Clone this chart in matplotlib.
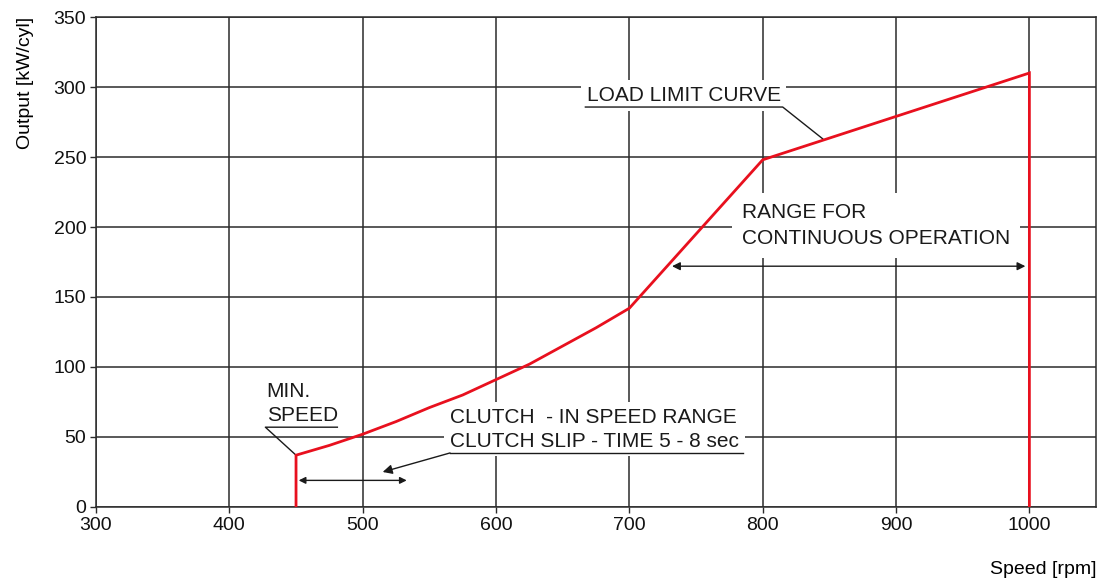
import numpy as np
import matplotlib
matplotlib.use("Agg")
import matplotlib.pyplot as plt

plt.rcParams['font.family'] = ['Liberation Sans', 'DejaVu Sans']

# load limit curve
speed = [450, 450, 475, 500, 525, 550, 575, 600, 625, 650, 675, 700, 800, 1000, 1000]
output = [0, 37, 44, 52, 61, 71, 80, 91, 102, 115, 128, 142, 248, 310, 0]

xticks = [300, 400, 500, 600, 700, 800, 900, 1000]
yticks = [0, 50, 100, 150, 200, 250, 300, 350]

red = '#e8101e'
grid_c = '#2b2b2b'

fig = plt.figure(figsize=(11.05, 5.81), dpi=100)
ax = fig.add_axes([0.0869, 0.1274, 0.905, 0.8433])

ax.set_xlim(300, 1050)
ax.set_ylim(0, 350)
ax.set_xticks(xticks)
ax.set_yticks(yticks)
ax.grid(True, color=grid_c, linewidth=1.1)
ax.set_axisbelow(True)
for s in ax.spines.values():
    s.set_color(grid_c)
    s.set_linewidth(1.1)
ax.tick_params(direction='out', length=4, width=1, color=grid_c,
               labelsize=14, labelcolor='#111111', pad=3)

# curve drawn on top of the white label boxes
ax.plot(speed, output, color=red, linewidth=2.0, zorder=8, solid_joinstyle='miter')

ax.set_xlabel('Speed [rpm]', fontsize=14, loc='right', labelpad=20)
ax.set_ylabel('Output [kW/cyl]', fontsize=14, loc='top', labelpad=14)

txt = dict(fontsize=15, color='#1a1a1a', zorder=6)
lk = dict(color='#1a1a1a', linewidth=1.0, zorder=6)
box = dict(facecolor='white', edgecolor='none', pad=4)

# MIN. SPEED
ax.text(428, 74, 'MIN.\nSPEED', ha='left', va='center', linespacing=1.3, **txt)
ax.plot([481, 427, 450], [57, 57, 37], **lk)

# clutch-in range
ax.text(565.5, 55.5, 'CLUTCH  - IN SPEED RANGE\nCLUTCH SLIP - TIME 5 - 8 sec',
        ha='left', va='center', linespacing=1.3, bbox=box, **txt)
ax.plot([785, 565.5], [38.6, 38.6], **lk)
ax.annotate('', xy=(515, 25), xytext=(565.5, 38.6),
            arrowprops=dict(arrowstyle='-|>', color='#1a1a1a', lw=1.0,
                            mutation_scale=14, shrinkA=0, shrinkB=0), zorder=6)
ax.annotate('', xy=(452, 19), xytext=(533, 19),
            arrowprops=dict(arrowstyle='<|-|>', color='#1a1a1a', lw=1.0,
                            mutation_scale=10, shrinkA=0, shrinkB=0), zorder=6)

# load limit curve label
ax.text(668, 294, 'LOAD LIMIT CURVE', ha='left', va='center', bbox=box, **txt)
ax.plot([667, 815, 845], [285.7, 285.7, 263], **lk)

# continuous operation range
ax.text(784.5, 201, 'RANGE FOR\nCONTINUOUS OPERATION', ha='left', va='center',
        linespacing=1.45, bbox=dict(facecolor='white', edgecolor='none', pad=7), **txt)
ax.annotate('', xy=(732, 172), xytext=(997, 172),
            arrowprops=dict(arrowstyle='<|-|>', color='#1a1a1a', lw=1.0,
                            mutation_scale=12, shrinkA=0, shrinkB=0), zorder=6)

fig.savefig('out.png', dpi=100)
